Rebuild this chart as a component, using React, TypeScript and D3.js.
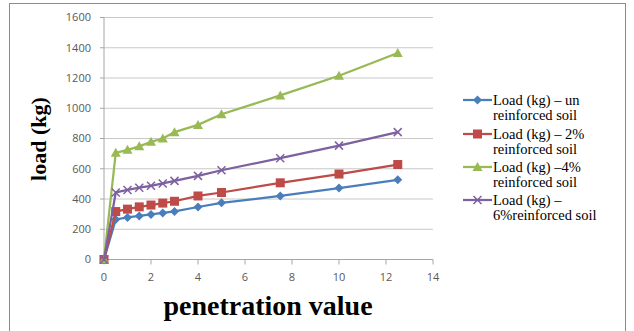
import React from "react";
import * as d3 from "d3";

const penetration = [0, 0.5, 1, 1.5, 2, 2.5, 3, 4, 5, 7.5, 10, 12.5];
const loadUnreinforced = [0, 265, 278, 288, 298, 308, 318, 347, 375, 420, 472, 527];
const load2pct = [0, 317, 333, 348, 360, 373, 385, 420, 443, 507, 565, 628];
const load4pct = [0, 705, 725, 748, 778, 800, 842, 890, 960, 1085, 1215, 1365];
const load6pct = [0, 443, 460, 475, 487, 503, 520, 553, 590, 670, 753, 842];

const xTicks = [0, 2, 4, 6, 8, 10, 12, 14];
const yTicks = [0, 200, 400, 600, 800, 1000, 1200, 1400, 1600];

const seriesNames = [
  ["Load (kg) \u2013 un", "reinforced soil"],
  ["Load (kg) \u2013 2%", "reinforced soil"],
  ["Load (kg) \u20134%", "reinforced soil"],
  ["Load (kg) \u2013", "6%reinforced soil"],
];
const seriesValues = [loadUnreinforced, load2pct, load4pct, load6pct];
const colors = ["#4a7ebb", "#be4b48", "#98b954", "#7d60a0"];
const markers = ["diamond", "square", "triangle", "cross"];

function Marker({ kind, x, y, color }: { kind: string; x: number; y: number; color: string }) {
  if (kind === "diamond") {
    const r = 4.5;
    return <path d={`M${x},${y - r}L${x + r},${y}L${x},${y + r}L${x - r},${y}Z`} fill={color} />;
  }
  if (kind === "square") {
    const r = 4.5;
    return <rect x={x - r} y={y - r} width={2 * r} height={2 * r} fill={color} />;
  }
  if (kind === "triangle") {
    const r = 5;
    return <path d={`M${x},${y - r}L${x + r},${y + r * 0.8}L${x - r},${y + r * 0.8}Z`} fill={color} />;
  }
  const r = 4;
  return (
    <path
      d={`M${x - r},${y - r}L${x + r},${y + r}M${x - r},${y + r}L${x + r},${y - r}`}
      stroke={color}
      strokeWidth={1.5}
      fill="none"
    />
  );
}

export default function App() {
  const width = 634;
  const height = 331;
  const x = d3.scaleLinear().domain([0, 14]).range([104, 433]);
  const y = d3.scaleLinear().domain([0, 1600]).range([259.5, 17.5]);
  const line = d3
    .line<[number, number]>()
    .x((d) => x(d[0]))
    .y((d) => y(d[1]));

  const legendX = 463;
  const legendY = [100, 134, 167, 200];

  return (
    <svg
      width={width}
      height={height}
      style={{ position: "absolute", left: 0, top: 0, background: "#fff" }}
    >
      <rect x={9.5} y={3.5} width={616} height={330} fill="#fff" stroke="#8c8c8c" strokeWidth={1} />

      {yTicks.map((t) => (
        <g key={"y" + t}>
          {t > 0 && <line x1={x(0)} x2={x(14)} y1={y(t)} y2={y(t)} stroke="#c8c8c8" strokeWidth={1} />}
          <line x1={x(0) - 4} x2={x(0)} y1={y(t)} y2={y(t)} stroke="#a6a6a6" />
          <text
            x={91}
            y={y(t)}
            dy="0.35em"
            textAnchor="end"
            fontFamily="'Open Sans', sans-serif"
            fontSize={11}
            fill="#595959"
          >
            {t}
          </text>
        </g>
      ))}
      <line x1={x(0)} x2={x(0)} y1={y(0)} y2={y(1600)} stroke="#a6a6a6" />
      <line x1={x(0)} x2={x(14)} y1={y(0)} y2={y(0)} stroke="#a6a6a6" />
      {xTicks.map((t) => (
        <g key={"x" + t}>
          <line x1={x(t)} x2={x(t)} y1={y(0)} y2={y(0) + 5} stroke="#a6a6a6" />
          <text
            x={x(t)}
            y={277}
            dy="0.35em"
            textAnchor="middle"
            fontFamily="'Open Sans', sans-serif"
            fontSize={11}
            fill="#595959"
          >
            {t}
          </text>
        </g>
      ))}

      {seriesValues.map((vals, i) => {
        const pts = penetration.map((p, j) => [p, vals[j]] as [number, number]);
        return (
          <g key={"s" + i}>
            <path d={line(pts) || ""} fill="none" stroke={colors[i]} strokeWidth={2.25} />
            {pts.map((p, j) => (
              <Marker key={j} kind={markers[i]} x={x(p[0])} y={y(p[1])} color={colors[i]} />
            ))}
          </g>
        );
      })}

      <text
        transform={`translate(46,139) rotate(-90)`}
        textAnchor="middle"
        fontFamily="'Liberation Serif', 'Times New Roman', serif"
        fontWeight="bold"
        fontSize={22}
        fill="#000"
      >
        load (kg)
      </text>
      <text
        x={268}
        y={315}
        textAnchor="middle"
        fontFamily="'Liberation Serif', 'Times New Roman', serif"
        fontWeight="bold"
        fontSize={28}
        fill="#000"
      >
        penetration value
      </text>

      {seriesNames.map((nm, i) => (
        <g key={"l" + i}>
          <line
            x1={legendX}
            x2={legendX + 29}
            y1={legendY[i]}
            y2={legendY[i]}
            stroke={colors[i]}
            strokeWidth={2.25}
          />
          <Marker kind={markers[i]} x={legendX + 14.5} y={legendY[i]} color={colors[i]} />
          <text
            x={legendX + 30}
            y={legendY[i]}
            dy="0.33em"
            fontFamily="'Liberation Serif', 'Times New Roman', serif"
            fontSize={14.5}
            fill="#000"
          >
            {nm[0]}
          </text>
          <text
            x={legendX + 30}
            y={legendY[i] + 15}
            dy="0.33em"
            fontFamily="'Liberation Serif', 'Times New Roman', serif"
            fontSize={14.5}
            fill="#000"
          >
            {nm[1]}
          </text>
        </g>
      ))}
    </svg>
  );
}
